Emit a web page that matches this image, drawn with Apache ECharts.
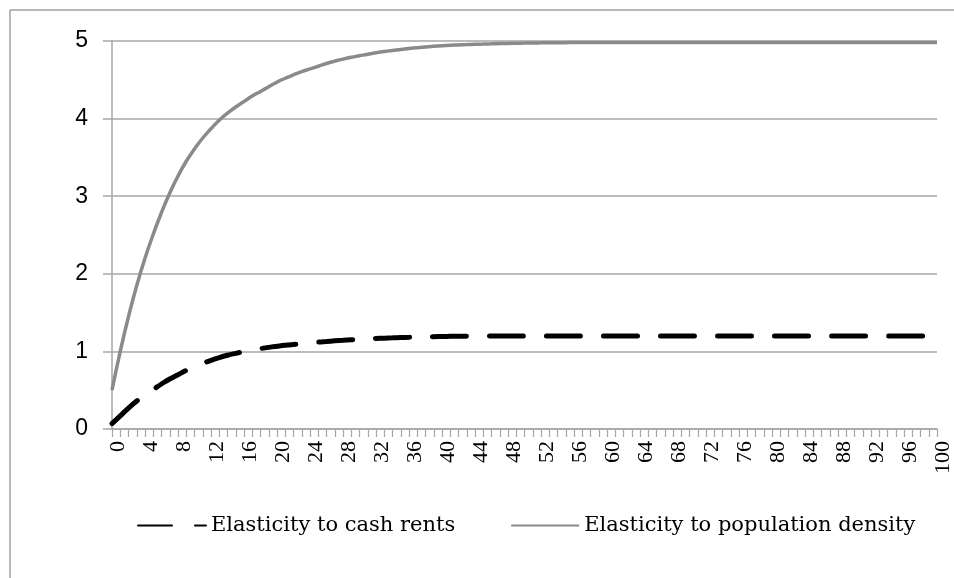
<!DOCTYPE html>
<html>
<head>
<meta charset="utf-8">
<script src="https://cdn.jsdelivr.net/npm/echarts@6/dist/echarts.min.js"></script>
<style>
html,body{margin:0;padding:0;background:#fff;}
#chart{width:954px;height:578px;}
</style>
</head>
<body>
<div id="chart"></div>
<script>
// Categories 0..100
var categories = [];
for (var i = 0; i <= 100; i++) categories.push(String(i));

var seriesNames = ["Elasticity to cash rents", "Elasticity to population density"];

// Values (one per category 0..100)
var cashRents = [
  0.07, 0.17, 0.27, 0.36, 0.44, 0.51, 0.58, 0.645, 0.70, 0.755,
  0.80, 0.845, 0.885, 0.92, 0.95, 0.975, 0.998, 1.018, 1.036, 1.052,
  1.066, 1.079, 1.09, 1.10, 1.11, 1.12, 1.128, 1.136, 1.143, 1.15,
  1.156, 1.162, 1.167, 1.171, 1.175, 1.179, 1.182, 1.185, 1.188, 1.19,
  1.192, 1.194, 1.195, 1.196, 1.197, 1.198, 1.199, 1.20, 1.20, 1.20,
  1.20, 1.20, 1.20, 1.20, 1.20, 1.20, 1.20, 1.20, 1.20, 1.20,
  1.20, 1.20, 1.20, 1.20, 1.20, 1.20, 1.20, 1.20, 1.20, 1.20,
  1.20, 1.20, 1.20, 1.20, 1.20, 1.20, 1.20, 1.20, 1.20, 1.20,
  1.20, 1.20, 1.20, 1.20, 1.20, 1.20, 1.20, 1.20, 1.20, 1.20,
  1.20, 1.20, 1.20, 1.20, 1.20, 1.20, 1.20, 1.20, 1.20, 1.20,
  1.20
];

var populationDensity = [
  0.50, 1.00, 1.45, 1.85, 2.20, 2.51, 2.79, 3.04, 3.26, 3.45,
  3.61, 3.75, 3.87, 3.98, 4.07, 4.15, 4.22, 4.29, 4.35, 4.41,
  4.47, 4.52, 4.565, 4.605, 4.64, 4.675, 4.71, 4.74, 4.767, 4.79,
  4.81, 4.83, 4.848, 4.864, 4.878, 4.891, 4.903, 4.914, 4.924, 4.932,
  4.939, 4.945, 4.95, 4.954, 4.958, 4.961, 4.964, 4.967, 4.969, 4.971,
  4.973, 4.975, 4.976, 4.977, 4.978, 4.979, 4.98, 4.98, 4.98, 4.98,
  4.98, 4.98, 4.98, 4.98, 4.98, 4.98, 4.98, 4.98, 4.98, 4.98,
  4.98, 4.98, 4.98, 4.98, 4.98, 4.98, 4.98, 4.98, 4.98, 4.98,
  4.98, 4.98, 4.98, 4.98, 4.98, 4.98, 4.98, 4.98, 4.98, 4.98,
  4.98, 4.98, 4.98, 4.98, 4.98, 4.98, 4.98, 4.98, 4.98, 4.98,
  4.98
];

var yMin = 0, yMax = 5, yInterval = 1;

var chart = echarts.init(document.getElementById('chart'), null, {renderer: 'canvas'});
var gridColor = '#a6a6a6';
var option = {
  backgroundColor: '#ffffff',
  animation: false,
  graphic: [
    {type: 'line', shape: {x1: 10, y1: 10, x2: 954, y2: 10}, style: {stroke: '#a0a0a0', lineWidth: 1.5}},
    {type: 'line', shape: {x1: 10, y1: 10, x2: 10, y2: 578}, style: {stroke: '#a0a0a0', lineWidth: 1.5}}
  ],
  grid: {left: 112, right: 14, top: 41, bottom: 149, containLabel: false},
  legend: {
    data: seriesNames,
    left: 132,
    top: 510,
    itemWidth: 68,
    itemHeight: 14,
    itemGap: 55,
    itemStyle: {opacity: 0},
    textStyle: {fontFamily: 'DejaVu Serif', fontSize: 21, color: '#000'}
  },
  xAxis: {
    type: 'category',
    data: categories,
    boundaryGap: false,
    axisLine: {lineStyle: {color: gridColor, width: 1.5}},
    axisTick: {show: true, interval: 0, length: 8, lineStyle: {color: gridColor, width: 1.2}},
    axisLabel: {
      interval: 3,
      rotate: 90,
      margin: 12,
      verticalAlign: 'top',
      lineHeight: 12,
      fontFamily: 'Liberation Serif',
      fontSize: 22,
      color: '#000'
    },
    splitLine: {show: false}
  },
  yAxis: {
    type: 'value',
    min: yMin,
    max: yMax,
    interval: yInterval,
    axisLine: {show: true, lineStyle: {color: gridColor, width: 1.5}},
    axisTick: {show: true, inside: false, length: 9, lineStyle: {color: gridColor, width: 1.5}},
    axisLabel: {margin: 24, fontFamily: 'Liberation Sans', fontSize: 23, color: '#000'},
    splitLine: {show: true, lineStyle: {color: gridColor, width: 1.5}}
  },
  series: [
    {
      name: seriesNames[0],
      type: 'line',
      data: cashRents,
      symbol: 'none',
      smooth: true,
      color: '#000000',
      lineStyle: {color: '#000000', width: 5, type: [34, 23], cap: 'round'},
      z: 3
    },
    {
      name: seriesNames[1],
      type: 'line',
      data: populationDensity,
      symbol: 'none',
      smooth: true,
      color: '#8a8a8a',
      lineStyle: {color: '#8a8a8a', width: 3.5},
      z: 2
    }
  ]
};
chart.setOption(option);
</script>
</body>
</html>
